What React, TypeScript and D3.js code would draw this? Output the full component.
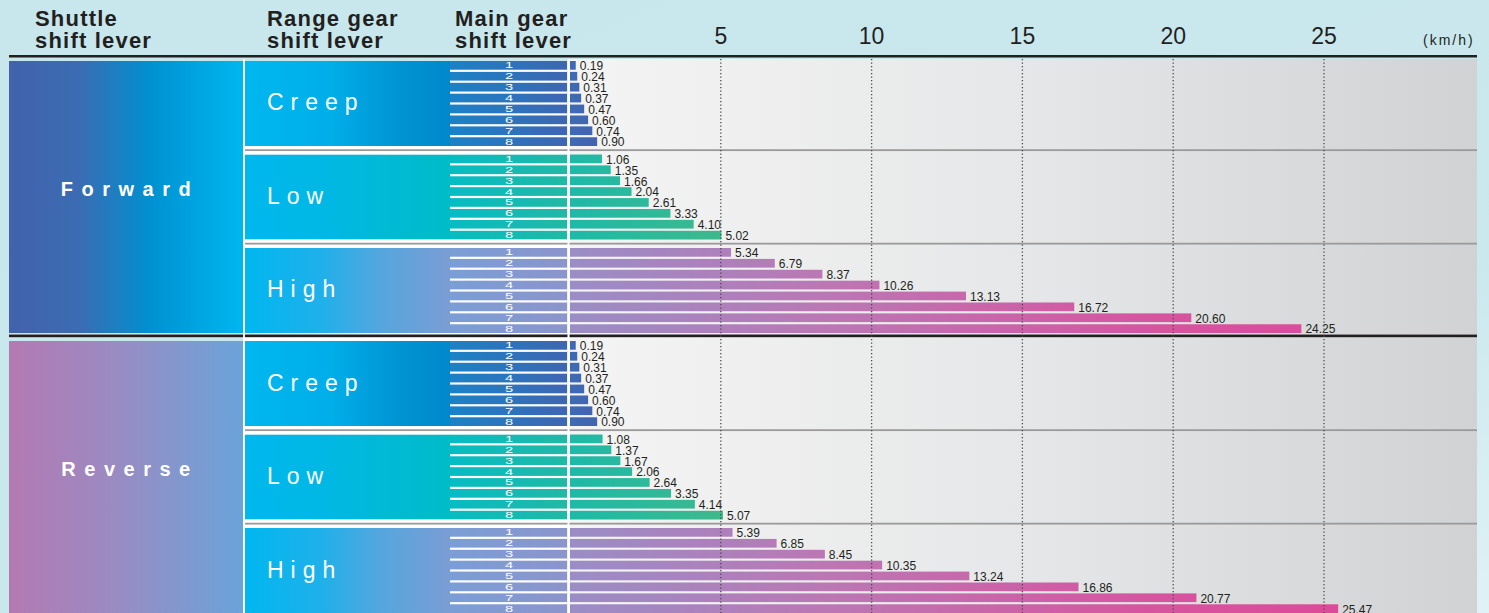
import React from "react";
import * as d3 from "d3";

// travel speed by shuttle / range / main gear (km/h)
const shuttles = ["Forward", "Reverse"];
const ranges = ["Creep", "Low", "High"];
const gears = ["1", "2", "3", "4", "5", "6", "7", "8"];

const forwardCreep = [0.19, 0.24, 0.31, 0.37, 0.47, 0.6, 0.74, 0.9];
const forwardLow = [1.06, 1.35, 1.66, 2.04, 2.61, 3.33, 4.1, 5.02];
const forwardHigh = [5.34, 6.79, 8.37, 10.26, 13.13, 16.72, 20.6, 24.25];
const reverseCreep = [0.19, 0.24, 0.31, 0.37, 0.47, 0.6, 0.74, 0.9];
const reverseLow = [1.08, 1.37, 1.67, 2.06, 2.64, 3.35, 4.14, 5.07];
const reverseHigh = [5.39, 6.85, 8.45, 10.35, 13.24, 16.86, 20.77, 25.47];

const speedTicks = [5, 10, 15, 20, 25];

const W = 1489;
const H = 613;
const FONT = '"Liberation Sans", Arial, Helvetica, sans-serif';
const INK = "#231f20";
const fmt = d3.format(".2f");

// column edges
const left = 9;
const shuttleRight = 243;
const rangeLeft = 245;
const gearLeft = 450;
const gearRight = 567;
const plotLeft = 569;
const right = 1477;

export default function App() {
  const speeds: Record<string, number[][]> = {
    Forward: [forwardCreep, forwardLow, forwardHigh],
    Reverse: [reverseCreep, reverseLow, reverseHigh],
  };

  const x = d3.scaleLinear().domain([0, 25]).range([570, 1324]);
  const ySection = d3.scaleBand().domain(shuttles).range([61, H]).paddingInner(0.0286);
  const yGroup = d3.scaleBand().domain(ranges).range([0, ySection.bandwidth()]).paddingInner(0.091);
  const yRow = d3.scaleBand().domain(gears).range([0, yGroup.bandwidth()]).paddingInner(0.2);

  const secH = ySection.bandwidth();
  const grpH = yGroup.bandwidth();

  return (
    <svg
      width={W}
      height={H}
      style={{ position: "absolute", left: 0, top: 0, display: "block" }}
      fontFamily={FONT}
    >
      <defs>
        <linearGradient id="bg" x1="0" y1="0" x2="1" y2="1">
          <stop offset="0" stopColor="#c7e7ed" />
          <stop offset="0.7" stopColor="#cae8ee" />
          <stop offset="1" stopColor="#e0f2f5" />
        </linearGradient>
        <linearGradient id="plotBg" gradientUnits="userSpaceOnUse" x1={plotLeft} x2={right} y1="0" y2="0">
          <stop offset="0" stopColor="#f4f4f4" />
          <stop offset="0.5" stopColor="#e6e7e8" />
          <stop offset="1" stopColor="#d1d2d4" />
        </linearGradient>
        <linearGradient id="sh-Forward" gradientUnits="userSpaceOnUse" x1={left} x2={shuttleRight} y1="0" y2="0">
          <stop offset="0" stopColor="#4262ab" />
          <stop offset="0.3" stopColor="#3b6cb3" />
          <stop offset="0.6" stopColor="#0090d0" />
          <stop offset="0.82" stopColor="#00a6e2" />
          <stop offset="1" stopColor="#00b6ee" />
        </linearGradient>
        <linearGradient id="sh-Reverse" gradientUnits="userSpaceOnUse" x1={left} x2={shuttleRight} y1="0" y2="0">
          <stop offset="0" stopColor="#b479b2" />
          <stop offset="0.45" stopColor="#9a8bc2" />
          <stop offset="1" stopColor="#6aa3da" />
        </linearGradient>
        <linearGradient id="rg-Creep" gradientUnits="userSpaceOnUse" x1={rangeLeft} x2={gearLeft} y1="0" y2="0">
          <stop offset="0" stopColor="#00b7ef" />
          <stop offset="0.42" stopColor="#00aee8" />
          <stop offset="0.75" stopColor="#0094d3" />
          <stop offset="1" stopColor="#0088cb" />
        </linearGradient>
        <linearGradient id="rg-Low" gradientUnits="userSpaceOnUse" x1={rangeLeft} x2={gearLeft} y1="0" y2="0">
          <stop offset="0" stopColor="#00b7ef" />
          <stop offset="0.42" stopColor="#00b8e2" />
          <stop offset="1" stopColor="#00bcc8" />
        </linearGradient>
        <linearGradient id="rg-High" gradientUnits="userSpaceOnUse" x1={rangeLeft} x2={gearLeft} y1="0" y2="0">
          <stop offset="0" stopColor="#00b7ef" />
          <stop offset="0.37" stopColor="#1fb0ea" />
          <stop offset="0.66" stopColor="#55a6de" />
          <stop offset="1" stopColor="#7a9dd4" />
        </linearGradient>
        <linearGradient id="gb-Creep" gradientUnits="userSpaceOnUse" x1={gearLeft} x2={gearRight} y1="0" y2="0">
          <stop offset="0" stopColor="#1a82c6" />
          <stop offset="1" stopColor="#3f66b2" />
        </linearGradient>
        <linearGradient id="gb-Low" gradientUnits="userSpaceOnUse" x1={gearLeft} x2={gearRight} y1="0" y2="0">
          <stop offset="0" stopColor="#06bcc4" />
          <stop offset="1" stopColor="#22b8a4" />
        </linearGradient>
        <linearGradient id="gb-High" gradientUnits="userSpaceOnUse" x1={gearLeft} x2={gearRight} y1="0" y2="0">
          <stop offset="0" stopColor="#7a9ed6" />
          <stop offset="1" stopColor="#8c94cc" />
        </linearGradient>
        <linearGradient id="vb-Creep" gradientUnits="userSpaceOnUse" x1={x(0)} x2={x(1)} y1="0" y2="0">
          <stop offset="0" stopColor="#3e6ab4" />
          <stop offset="1" stopColor="#4363ae" />
        </linearGradient>
        <linearGradient id="vb-Low" gradientUnits="userSpaceOnUse" x1={x(0)} x2={x(5)} y1="0" y2="0">
          <stop offset="0" stopColor="#1eb9a8" />
          <stop offset="1" stopColor="#3db98c" />
        </linearGradient>
        <linearGradient id="vb-High" gradientUnits="userSpaceOnUse" x1={x(0)} x2={x(25)} y1="0" y2="0">
          <stop offset="0" stopColor="#9a8dc6" />
          <stop offset="0.34" stopColor="#bb77b4" />
          <stop offset="0.77" stopColor="#d6549f" />
          <stop offset="1" stopColor="#dc4b9a" />
        </linearGradient>
      </defs>

      <rect width={W} height={H} fill="url(#bg)" />

      {/* header */}
      <g fill={INK} fontSize={22} fontWeight="bold" letterSpacing={1.2}>
        {[
          [35, "Shuttle", "shift lever"],
          [267, "Range gear", "shift lever"],
          [455, "Main gear", "shift lever"],
        ].map(([hx, l1, l2]) => (
          <text key={l1 as string} x={hx as number} y={26}>
            <tspan x={hx as number}>{l1}</tspan>
            <tspan x={hx as number} y={48}>{l2}</tspan>
          </text>
        ))}
      </g>
      {speedTicks.map((t) => (
        <text key={t} x={x(t)} y={44} textAnchor="middle" fontSize={23} fill={INK}>
          {t}
        </text>
      ))}
      <text x={1423} y={45} fontSize={14} letterSpacing={2} fill={INK}>
        (km/h)
      </text>
      <rect x={left} y={55} width={right - left} height={2.5} fill={INK} />

      <rect x={plotLeft} y={59} width={right - plotLeft} height={H - 59} fill="url(#plotBg)" />

      {shuttles.map((s) => {
        const sy = ySection(s)!;
        return (
          <g key={s}>
            <rect x={left} y={sy} width={shuttleRight - left} height={secH} fill={`url(#sh-${s})`} />
            <text
              x={(left + shuttleRight) / 2 + 4}
              y={sy + secH / 2 - 1}
              textAnchor="middle"
              fill="#fff"
              fontSize={20}
              fontWeight="bold"
              letterSpacing={8.5}
            >
              {s}
            </text>
            {ranges.map((r, gi) => {
              const gy = sy + yGroup(r)!;
              const vals = speeds[s][gi];
              return (
                <g key={r}>
                  <rect x={rangeLeft} y={gy} width={gearRight - rangeLeft} height={grpH} fill={`url(#rg-${r})`} />
                  <rect x={gearLeft} y={gy} width={gearRight - gearLeft} height={grpH} fill="#fff" />
                  <text
                    x={267}
                    y={gy + grpH / 2 + 7}
                    fill="#fff"
                    fontSize={23}
                    letterSpacing={7}
                  >
                    {r}
                  </text>
                  {gears.map((gname, i) => {
                    const ry = gy + yRow(gname)!;
                    const bh = yRow.bandwidth();
                    const v = vals[i];
                    return (
                      <g key={gname}>
                        <rect x={gearLeft} y={ry} width={gearRight - gearLeft} height={bh} fill={`url(#gb-${r})`} />
                        <text
                          transform={`translate(509,${ry + bh / 2 + 3}) scale(1.4,0.8)`}
                          textAnchor="middle"
                          fill="#fff"
                          fontSize={10.5}
                        >
                          {gname}
                        </text>
                        <rect x={x(0)} y={ry} width={x(v) - x(0)} height={bh} fill={`url(#vb-${r})`} />
                        <text x={x(v) + 4} y={ry + bh + 0.5} fontSize={12} fill={INK}>
                          {fmt(v)}
                        </text>
                      </g>
                    );
                  })}
                </g>
              );
            })}
            {/* separators between range groups */}
            {ranges.slice(1).map((r) => {
              const top = sy + yGroup(r)!;
              const gap = yGroup.step() - grpH;
              return (
                <g key={"sep" + r}>
                  <rect x={rangeLeft} y={top - gap} width={plotLeft - rangeLeft} height={gap} fill="#fff" />
                  <rect x={rangeLeft} y={top - gap / 2 - 1} width={right - rangeLeft} height={1.8} fill="#9a9a9a" />
                </g>
              );
            })}
          </g>
        );
      })}

      {/* forward / reverse separator */}
      <rect
        x={rangeLeft}
        y={ySection("Forward")! + secH}
        width={plotLeft - rangeLeft}
        height={ySection("Reverse")! - ySection("Forward")! - secH}
        fill="#fff"
      />
      <rect x={left} y={334} width={right - left} height={1} fill="#8a8a8a" />
      <rect x={left} y={335} width={right - left} height={2.2} fill={INK} />

      {/* dotted grid */}
      {speedTicks.map((t) => (
        <line
          key={"g" + t}
          x1={x(t)}
          x2={x(t)}
          y1={59}
          y2={H}
          stroke="#4a4a4a"
          strokeWidth={1.3}
          strokeDasharray="1.3,2.2"
        />
      ))}

      {/* white dividers */}
      <rect x={567.5} y={59} width={2} height={H - 59} fill="#fff" />
      <rect x={243} y={59} width={2} height={H - 59} fill="#fff" opacity={0.9} />
    </svg>
  );
}
